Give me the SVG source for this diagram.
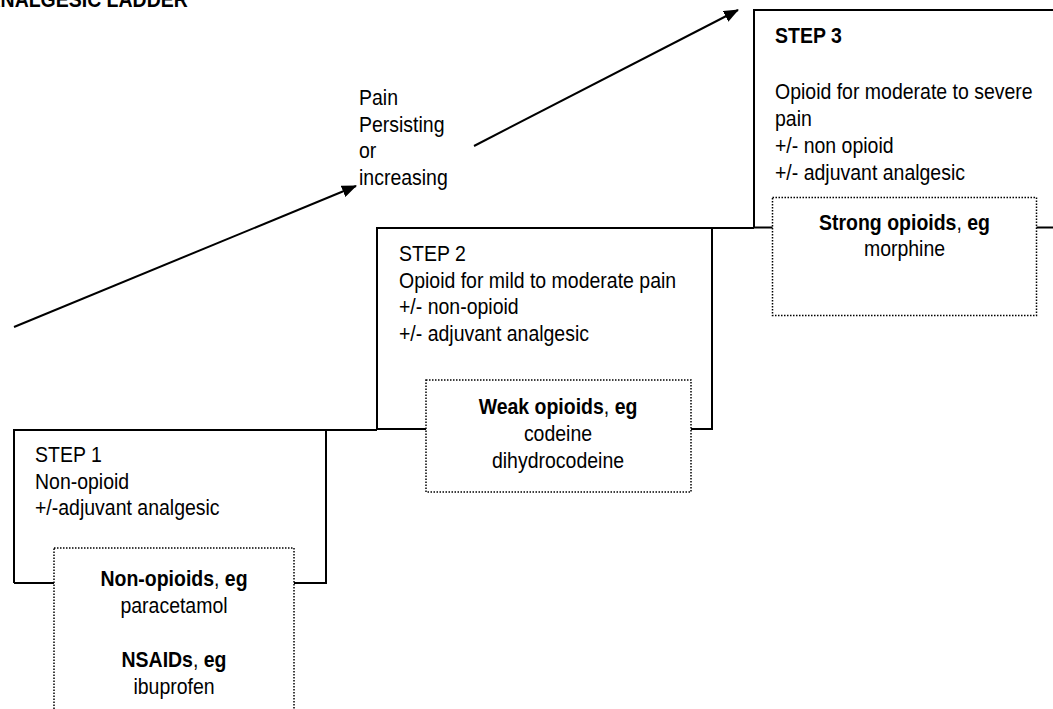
<svg xmlns="http://www.w3.org/2000/svg" width="1053" height="709" viewBox="0 0 1053 709">
<style>
text{font-family:"Liberation Sans",Arial,sans-serif;font-size:22px;fill:#000}
.b{font-weight:bold}
.c{text-anchor:middle}
.solid{fill:none;stroke:#000;stroke-width:2}
.dot{fill:#fff;stroke:#000;stroke-width:1.5;stroke-dasharray:1.5 1.5}
.arr{fill:none;stroke:#000;stroke-width:2;marker-end:url(#ah)}
</style>
<defs>
<marker id="ah" viewBox="0 0 15 12" refX="14" refY="6" markerWidth="15" markerHeight="12" markerUnits="userSpaceOnUse" orient="auto">
<path d="M0,0 L15,6 L0,12 Z" fill="#000"/>
</marker>
</defs>
<rect width="1053" height="709" fill="#fff"/>
<text id="title" class="b" transform="translate(-13.5,7) scale(0.886,1)">ANALGESIC LADDER</text>

<g id="connectors">
<line class="arr" x1="14" y1="327" x2="356" y2="186"/>
<line class="arr" x1="474" y1="146" x2="738" y2="10"/>
</g>

<g id="label-pain">
<text transform="translate(359,105) scale(0.886,1)">Pain</text>
<text transform="translate(359,131.5) scale(0.886,1)">Persisting</text>
<text transform="translate(359,158) scale(0.886,1)">or</text>
<text transform="translate(359,184.5) scale(0.886,1)">increasing</text>
</g>

<g id="step1">
<path class="solid" d="M14,583 V430 H377 M326,430 V583 H14"/>
<text transform="translate(35,462) scale(0.886,1)">STEP 1</text>
<text transform="translate(35,488.5) scale(0.886,1)">Non-opioid</text>
<text transform="translate(35,515) scale(0.886,1)">+/-adjuvant analgesic</text>
</g>

<g id="step2">
<path class="solid" d="M377,430 V228 H754 M712,228 V429 H377"/>
<text transform="translate(399,261) scale(0.886,1)">STEP 2</text>
<text transform="translate(399,287.5) scale(0.886,1)">Opioid for mild to moderate pain</text>
<text transform="translate(399,314) scale(0.886,1)">+/- non-opioid</text>
<text transform="translate(399,340.5) scale(0.886,1)">+/- adjuvant analgesic</text>
</g>

<g id="step3">
<path class="solid" d="M754,228 V10 H1053 M754,227.5 H1053"/>
<text class="b" transform="translate(775,43) scale(0.886,1)">STEP 3</text>
<text transform="translate(775,99) scale(0.886,1)">Opioid for moderate to severe</text>
<text transform="translate(775,126) scale(0.886,1)">pain</text>
<text transform="translate(775,153) scale(0.886,1)">+/- non opioid</text>
<text transform="translate(775,180) scale(0.886,1)">+/- adjuvant analgesic</text>
</g>

<g id="drugs1">
<rect class="dot" x="54" y="548" width="240" height="175"/>
<text class="c" transform="translate(174,586) scale(0.886,1)"><tspan class="b">Non-opioids</tspan><tspan>, </tspan><tspan class="b">eg</tspan></text>
<text class="c" transform="translate(174,613) scale(0.886,1)">paracetamol</text>
<text class="c" transform="translate(174,667) scale(0.886,1)"><tspan class="b">NSAIDs</tspan><tspan>, </tspan><tspan class="b">eg</tspan></text>
<text class="c" transform="translate(174,694) scale(0.886,1)">ibuprofen</text>
</g>

<g id="drugs2">
<rect class="dot" x="426" y="380" width="265" height="112"/>
<text class="c" transform="translate(558,414) scale(0.886,1)"><tspan class="b">Weak opioids</tspan><tspan>, </tspan><tspan class="b">eg</tspan></text>
<text class="c" transform="translate(558,441) scale(0.886,1)">codeine</text>
<text class="c" transform="translate(558,468) scale(0.886,1)">dihydrocodeine</text>
</g>

<g id="drugs3">
<rect class="dot" x="772.5" y="197.5" width="264" height="118"/>
<text class="c" transform="translate(904.5,230) scale(0.886,1)"><tspan class="b">Strong opioids</tspan><tspan>, </tspan><tspan class="b">eg</tspan></text>
<text class="c" transform="translate(904.5,256) scale(0.886,1)">morphine</text>
</g>
</svg>
